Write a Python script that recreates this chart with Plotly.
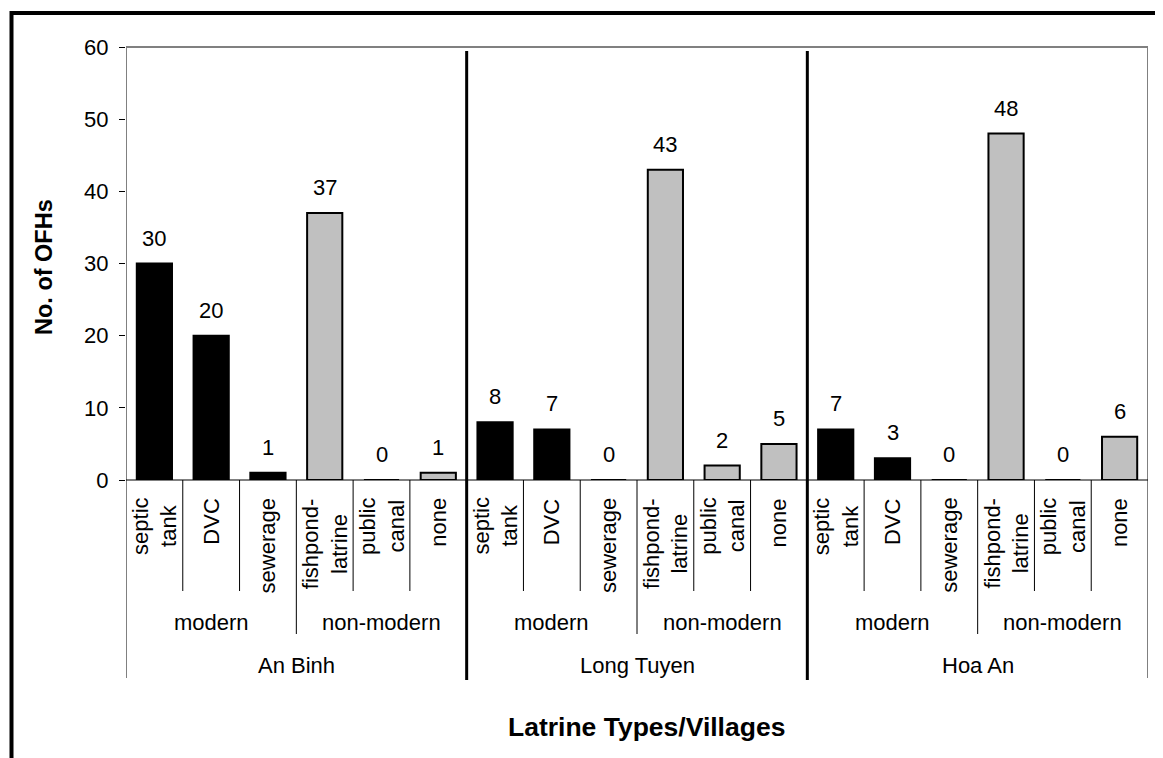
import plotly.graph_objects as go

# ---- data ----
villages = ["An Binh", "Long Tuyen", "Hoa An"]
groups = ["modern", "non-modern"]
latrine_types = ["septic<br>tank", "DVC", "sewerage", "fishpond-<br>latrine", "public<br>canal", "none"]
type_group = ["modern", "modern", "modern", "non-modern", "non-modern", "non-modern"]
an_binh = [30, 20, 1, 37, 0, 1]
long_tuyen = [8, 7, 0, 43, 2, 5]
hoa_an = [7, 3, 0, 48, 0, 6]
village_values = [an_binh, long_tuyen, hoa_an]
y_ticks = [0, 10, 20, 30, 40, 50, 60]

FONT = "Liberation Sans, Arial, sans-serif"
FS = 22
OFF = 8  # page body margin
W, H = 1163 - OFF, 758 - OFF
L, T = 126 - OFF, 47 - OFF
R, B = 15, 278
PH = H - T - B
PW = W - L - R


def py(pix):  # window pixel y -> paper y
    return (H - B - (pix - OFF)) / PH


def px(pix):
    return ((pix - OFF) - L) / PW


n_types = len(latrine_types)
xs, ys, colors = [], [], []
for vi, vals in enumerate(village_values):
    for ti, v in enumerate(vals):
        xs.append(vi * n_types + ti)
        ys.append(v)
        colors.append("#000000" if type_group[ti] == "modern" else "#C0C0C0")

fig = go.Figure()
fig.add_trace(go.Bar(
    x=xs, y=ys, width=0.62,
    marker=dict(color=colors, line=dict(color="#000000", width=2)),
    showlegend=False, hoverinfo="x+y",
))

annotations = []
shapes = []
# value labels
for x, v in zip(xs, ys):
    annotations.append(dict(x=x, y=v, xref="x", yref="y", text=str(v), showarrow=False,
                            yanchor="bottom", yshift=11, font=dict(family=FONT, size=FS, color="#000")))

# category labels (level 1)
for x in xs:
    ti = x % n_types
    annotations.append(dict(x=x, y=py(496), xref="x", yref="paper", text=latrine_types[ti],
                            showarrow=False, textangle=-90, yanchor="top", xanchor="center",
                            align="center", font=dict(family=FONT, size=FS, color="#000")))

# group labels (level 2) and village labels (level 3)
for vi in range(len(villages)):
    for g in groups:
        idx = [vi * n_types + ti for ti in range(n_types) if type_group[ti] == g]
        cx = (idx[0] + idx[-1]) / 2
        annotations.append(dict(x=cx, y=py(622), xref="x", yref="paper", text=g, showarrow=False,
                                yanchor="middle", font=dict(family=FONT, size=FS, color="#000")))
    cx = vi * n_types + (n_types - 1) / 2
    annotations.append(dict(x=cx, y=py(665), xref="x", yref="paper", text=villages[vi], showarrow=False,
                            yanchor="middle", font=dict(family=FONT, size=FS, color="#000")))

# divider lines
total = len(xs)
for b in range(1, total):
    bx = b - 0.5
    ti = b % n_types
    if ti == 0:
        shapes.append(dict(type="line", xref="x", yref="paper", x0=bx, x1=bx, y0=py(51), y1=py(680),
                           line=dict(color="#000", width=3)))
    elif type_group[ti] != type_group[ti - 1]:
        shapes.append(dict(type="line", xref="x", yref="paper", x0=bx, x1=bx, y0=0, y1=py(634),
                           line=dict(color="#000", width=1)))
    else:
        shapes.append(dict(type="line", xref="x", yref="paper", x0=bx, x1=bx, y0=0, y1=py(591),
                           line=dict(color="#000", width=1)))

# plot frame (gray) top/left/right, extended edges
for bx in (-0.5, total - 0.5):
    shapes.append(dict(type="line", xref="x", yref="paper", x0=bx, x1=bx, y0=1, y1=py(678),
                       line=dict(color="#808080", width=2)))
shapes.append(dict(type="line", xref="x", yref="paper", x0=-0.5, x1=total - 0.5, y0=1, y1=1,
                   line=dict(color="#808080", width=2)))
# x axis line
shapes.append(dict(type="line", xref="x", yref="paper", x0=-0.5, x1=total - 0.5, y0=0, y1=0,
                   line=dict(color="#000", width=1.2)))
# outer black frame
shapes.append(dict(type="rect", xref="paper", yref="paper", x0=px(11.5), x1=px(1185),
                   y0=py(790), y1=py(13), line=dict(color="#000", width=4), fillcolor="rgba(0,0,0,0)",
                   layer="above"))

# axis titles
annotations.append(dict(x=px(44), y=py(267), xref="paper", yref="paper", text="<b>No. of OFHs</b>",
                        showarrow=False, textangle=-90, xanchor="center", yanchor="middle",
                        font=dict(family=FONT, size=23.5, color="#000")))
annotations.append(dict(x=px(646), y=py(727), xref="paper", yref="paper", text="<b>Latrine Types/Villages</b>",
                        showarrow=False, xanchor="center", yanchor="middle",
                        font=dict(family=FONT, size=26.5, color="#000")))

fig.update_layout(
    width=W, height=H,
    margin=dict(l=L, r=R, t=T, b=B, pad=0),
    paper_bgcolor="white", plot_bgcolor="white",
    xaxis=dict(range=[-0.5, total - 0.5], showticklabels=False, ticks="", showgrid=False,
               zeroline=False, showline=False, fixedrange=True),
    yaxis=dict(range=[0, 60], tickvals=y_ticks, ticks="outside", ticklen=6, tickwidth=1,
               tickcolor="#000", showgrid=False, zeroline=False, showline=False,
               tickfont=dict(family=FONT, size=FS, color="#000"), ticklabelstandoff=6),
    annotations=annotations, shapes=shapes,
    font=dict(family=FONT, size=FS, color="#000"),
)

fig.write_html("out.html")
